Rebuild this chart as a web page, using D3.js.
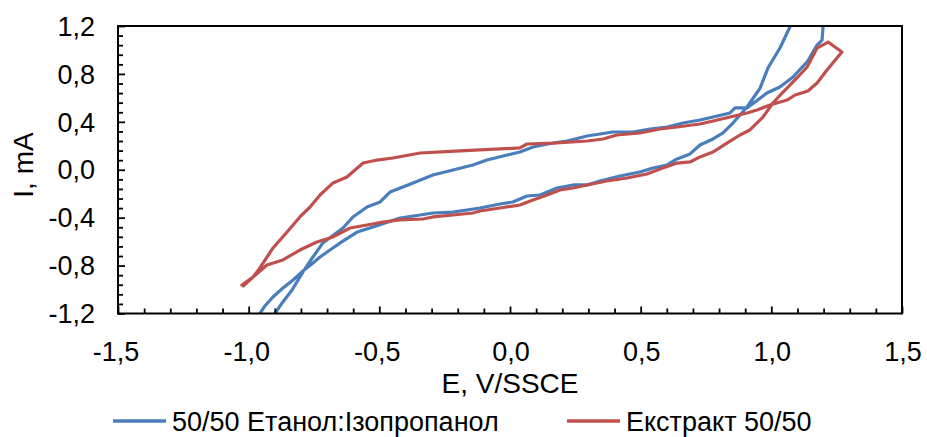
<!DOCTYPE html>
<html>
<head>
<meta charset="utf-8">
<script src="https://cdn.jsdelivr.net/npm/d3@7"></script>
<style>
  html, body { margin: 0; padding: 0; background: #fff; }
  svg { display: block; font-family: "Liberation Sans", Arial, sans-serif; }
</style>
</head>
<body>
<svg id="chart" width="927" height="437"></svg>
<script>
// Cyclic voltammograms: potential E (V vs SSCE) and current I (mA)
const seriesNames = ["50/50 Етанол:Ізопропанол", "Екстракт 50/50"];

const ethanolE = [-0.999,-0.968,-0.938,-0.907,-0.869,-0.830,-0.792,-0.754,-0.727,-0.689,-0.650,-0.585,-0.524,-0.421,-0.344,-0.295,-0.218,-0.165,-0.115,-0.038,0.011,0.065,0.115,0.180,0.241,0.295,0.344,0.421,0.497,0.547,0.601,0.639,0.689,0.727,0.777,0.815,0.853,0.907,0.957,0.987,1.033,1.071,1.102,
  1.221,1.198,1.194,1.175,1.137,1.083,1.033,0.983,0.907,0.861,0.842,0.777,0.727,0.662,0.601,0.536,0.471,0.394,0.295,0.218,0.165,0.088,0.038,-0.011,-0.088,-0.142,-0.218,-0.295,-0.371,-0.459,-0.497,-0.547,-0.601,-0.639,-0.716,-0.754,-0.792,-0.834,-0.872,-0.911,-0.941];
const ethanolI = [-1.338,-1.237,-1.137,-1.062,-0.987,-0.920,-0.845,-0.778,-0.728,-0.670,-0.611,-0.520,-0.478,-0.403,-0.378,-0.361,-0.353,-0.336,-0.319,-0.286,-0.269,-0.219,-0.211,-0.152,-0.127,-0.127,-0.094,-0.052,-0.019,0.015,0.040,0.090,0.132,0.207,0.257,0.307,0.390,0.524,0.682,0.849,1.016,1.192,1.334,
  1.334,1.192,1.083,1.041,0.900,0.774,0.691,0.641,0.516,0.516,0.474,0.440,0.415,0.390,0.357,0.340,0.315,0.315,0.282,0.240,0.223,0.190,0.148,0.123,0.081,0.040,-0.002,-0.044,-0.110,-0.186,-0.269,-0.311,-0.394,-0.486,-0.611,-0.728,-0.853,-1.004,-1.112,-1.237,-1.338];

const extractE = [-1.026,-0.983,-0.930,-0.869,-0.804,-0.739,-0.677,-0.612,-0.547,-0.486,-0.421,-0.333,-0.295,-0.218,-0.142,-0.115,-0.038,0.038,0.088,0.142,0.191,0.241,0.295,0.371,0.448,0.524,0.574,0.639,0.689,0.727,0.777,0.830,0.880,0.918,0.968,1.006,1.045,1.098,1.137,1.175,1.217,1.270,
  1.213,1.175,1.140,1.091,1.060,0.995,0.945,0.907,0.842,0.777,0.727,0.639,0.574,0.497,0.409,0.356,0.295,0.165,0.065,0.038,-0.191,-0.344,-0.448,-0.509,-0.562,-0.624,-0.677,-0.727,-0.765,-0.804,-0.853,-0.907,-0.957,-0.983,-1.020];
const extractI = [-0.962,-0.895,-0.795,-0.753,-0.670,-0.603,-0.561,-0.486,-0.461,-0.436,-0.419,-0.411,-0.394,-0.378,-0.361,-0.344,-0.319,-0.294,-0.252,-0.211,-0.169,-0.152,-0.127,-0.094,-0.069,-0.035,0.006,0.056,0.065,0.107,0.148,0.223,0.290,0.332,0.440,0.557,0.649,0.766,0.858,1.016,1.066,0.983,
  0.833,0.724,0.657,0.624,0.582,0.541,0.499,0.474,0.440,0.407,0.382,0.357,0.340,0.307,0.290,0.257,0.240,0.223,0.215,0.182,0.157,0.140,0.098,0.081,0.056,-0.060,-0.110,-0.211,-0.311,-0.394,-0.520,-0.653,-0.820,-0.895,-0.970];

const xTicks = [-1.5, -1.0, -0.5, 0.0, 0.5, 1.0, 1.5];
const yTicks = [-1.2, -0.8, -0.4, 0.0, 0.4, 0.8, 1.2];
const xMinorPerMajor = 5;
const yMinorPerMajor = 5;
const colors = ["#4a7ebb", "#c0504d"];

const fmt = v => v.toFixed(1).replace(".", ",");

const svg = d3.select("#chart");
const plot = { left: 118, right: 902, top: 26, bottom: 313.5 };

const x = d3.scaleLinear().domain([xTicks[0], xTicks[xTicks.length - 1]]).range([plot.left, plot.right]);
const y = d3.scaleLinear().domain([yTicks[0], yTicks[yTicks.length - 1]]).range([plot.bottom, plot.top]);

// minor tick positions between majors
function minorTicks(ticks, n) {
  const out = [];
  for (let i = 0; i < ticks.length - 1; i++) {
    const step = (ticks[i + 1] - ticks[i]) / n;
    for (let k = 1; k < n; k++) out.push(ticks[i] + k * step);
  }
  return out;
}

svg.append("defs").append("clipPath").attr("id", "plotClip")
  .append("rect")
  .attr("x", plot.left).attr("y", plot.top)
  .attr("width", plot.right - plot.left).attr("height", plot.bottom - plot.top);

// curves
const line = d3.line().x(d => x(d[0])).y(d => y(d[1]));
const series = [
  d3.zip(ethanolE, ethanolI),
  d3.zip(extractE, extractI)
];
const curves = svg.append("g").attr("clip-path", "url(#plotClip)");
series.forEach((pts, i) => {
  curves.append("path")
    .datum(pts)
    .attr("d", line)
    .attr("fill", "none")
    .attr("stroke", colors[i])
    .attr("stroke-width", 3.2)
    .attr("stroke-linejoin", "round")
    .attr("stroke-linecap", "round");
});

// axes with inward ticks
const xAxisMinor = d3.axisBottom(x).tickValues(minorTicks(xTicks, xMinorPerMajor)).tickSize(-5).tickFormat("");
const xAxisMajor = d3.axisBottom(x).tickValues(xTicks).tickSize(-7).tickFormat("");
const yAxisMinor = d3.axisLeft(y).tickValues(minorTicks(yTicks, yMinorPerMajor)).tickSize(-5).tickFormat("");
const yAxisMajor = d3.axisLeft(y).tickValues(yTicks).tickSize(-7).tickFormat("");

[xAxisMinor, xAxisMajor].forEach(ax => {
  svg.append("g").attr("transform", `translate(0,${plot.bottom})`).call(ax)
    .call(g => g.select(".domain").remove())
    .call(g => g.selectAll("line").attr("stroke", "#000").attr("stroke-width", 1.8));
});
[yAxisMinor, yAxisMajor].forEach(ax => {
  svg.append("g").attr("transform", `translate(${plot.left},0)`).call(ax)
    .call(g => g.select(".domain").remove())
    .call(g => g.selectAll("line").attr("stroke", "#000").attr("stroke-width", 1.8));
});

// plot frame
svg.append("rect")
  .attr("x", plot.left).attr("y", plot.top)
  .attr("width", plot.right - plot.left).attr("height", plot.bottom - plot.top)
  .attr("fill", "none").attr("stroke", "#000").attr("stroke-width", 2);

// tick labels
svg.append("g").selectAll("text").data(xTicks).join("text")
  .attr("x", d => x(d) + (d < 0 ? -2 : 1))
  .attr("y", plot.bottom + 38)
  .attr("dy", "0.36em")
  .attr("text-anchor", "middle")
  .attr("font-size", 27)
  .attr("fill", "#000")
  .text(fmt);

svg.append("g").selectAll("text").data(yTicks).join("text")
  .attr("x", 95)
  .attr("y", d => y(d))
  .attr("dy", "0.36em")
  .attr("text-anchor", "end")
  .attr("font-size", 27)
  .attr("fill", "#000")
  .text(fmt);

// axis titles
svg.append("text")
  .attr("x", 510).attr("y", 383).attr("dy", "0.36em")
  .attr("text-anchor", "middle").attr("font-size", 28).attr("fill", "#000")
  .text("E, V/SSCE");

svg.append("text")
  .attr("transform", "translate(23,165) rotate(-90)")
  .attr("dy", "0.36em")
  .attr("text-anchor", "middle").attr("font-size", 28).attr("fill", "#000")
  .text("I, mA");

// legend
const legendItems = [
  { name: seriesNames[0], color: colors[0], x0: 113 },
  { name: seriesNames[1], color: colors[1], x0: 567 }
];
const lg = svg.append("g");
legendItems.forEach(it => {
  lg.append("line")
    .attr("x1", it.x0).attr("x2", it.x0 + 53)
    .attr("y1", 421).attr("y2", 421)
    .attr("stroke", it.color).attr("stroke-width", 3.5);
  lg.append("text")
    .attr("x", it.x0 + 59).attr("y", 421).attr("dy", "0.36em")
    .attr("font-size", 27).attr("fill", "#000")
    .text(it.name);
});
</script>
</body>
</html>
